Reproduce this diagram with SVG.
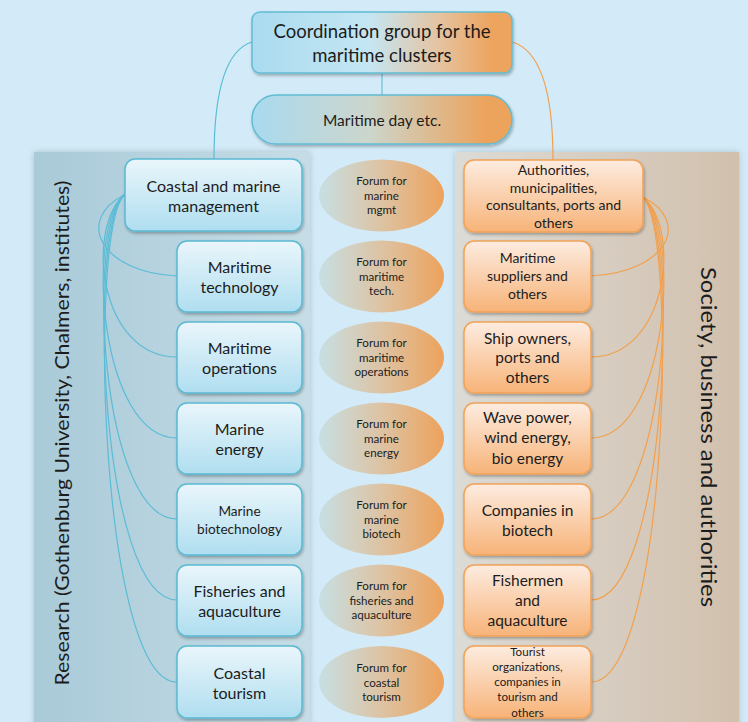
<svg xmlns="http://www.w3.org/2000/svg" width="748" height="722" viewBox="0 0 748 722">
<defs>
<linearGradient id="gLP" x1="0" y1="0" x2="1" y2="0"><stop offset="0" stop-color="#a9cad8"/><stop offset="1" stop-color="#c6dde6"/></linearGradient>
<linearGradient id="gRP" x1="0" y1="0" x2="1" y2="0"><stop offset="0" stop-color="#dcdbd6"/><stop offset="1" stop-color="#d2c0ad"/></linearGradient>
<linearGradient id="gCoord" x1="0" y1="0" x2="1" y2="0"><stop offset="0" stop-color="#aadbef"/><stop offset="0.45" stop-color="#c4e6f3"/><stop offset="0.72" stop-color="#e5c3a0"/><stop offset="0.92" stop-color="#eda45f"/><stop offset="1" stop-color="#eda45f"/></linearGradient>
<linearGradient id="gPill" x1="0" y1="0" x2="1" y2="0"><stop offset="0" stop-color="#a9daef"/><stop offset="0.45" stop-color="#ccd6cc"/><stop offset="0.9" stop-color="#eca35c"/><stop offset="1" stop-color="#eca35c"/></linearGradient>
<linearGradient id="gEll" x1="0" y1="0" x2="1" y2="0"><stop offset="0" stop-color="#c7dfe3"/><stop offset="0.5" stop-color="#ddc3a3"/><stop offset="1" stop-color="#eda25c"/></linearGradient>
<linearGradient id="gLB" x1="0" y1="0" x2="0" y2="1"><stop offset="0" stop-color="#eaf6fb"/><stop offset="1" stop-color="#afdef0"/></linearGradient>
<linearGradient id="gRB" x1="0" y1="0" x2="0" y2="1"><stop offset="0" stop-color="#fdece0"/><stop offset="1" stop-color="#f7b378"/></linearGradient>
<filter id="sh" x="-10%" y="-10%" width="125%" height="130%"><feDropShadow dx="1" dy="2" stdDeviation="1.5" flood-color="#000" flood-opacity="0.28"/></filter>
<filter id="psh" x="-5%" y="-5%" width="110%" height="110%"><feDropShadow dx="0" dy="0" stdDeviation="3" flood-color="#000" flood-opacity="0.18"/></filter>
</defs>
<style>
text{font-family:Lato,"Open Sans","Liberation Sans",sans-serif;fill:#1c1c1c;text-anchor:middle}
.lb{fill:url(#gLB);stroke:#5ab9d3;stroke-width:1.5}
.rb{fill:url(#gRB);stroke:#f1a358;stroke-width:1.5}
.el{fill:url(#gEll)}
.lc{fill:none;stroke:#5bbcd6;stroke-width:1.2}
.rc{fill:none;stroke:#f2a04e;stroke-width:1.2}
.t15{font-size:16px}
.t16{font-size:15.5px}
.t13{font-size:13.6px}
.t10{font-size:11.6px}
.big{font-size:20px;text-anchor:middle}
</style>
<rect width="748" height="722" fill="#d3ebf8"/>
<g id="panels">
<rect x="34" y="152" width="276" height="580" fill="url(#gLP)" filter="url(#psh)"/>
<rect x="455" y="152" width="284" height="580" fill="url(#gRP)" filter="url(#psh)"/>
<text class="big" transform="translate(69,433) rotate(-90)" textLength="505" lengthAdjust="spacingAndGlyphs">Research (Gothenburg University, Chalmers, institutes)</text>
<text class="big" transform="translate(701,437) rotate(90)" textLength="340" lengthAdjust="spacingAndGlyphs" style="font-size:22px">Society, business and authorities</text>
</g>
<g id="connectors">
<path class="lc" d="M252,42 C226,50 214,92 214,159"/>
<path class="rc" d="M512,42 C540,50 553,92 553,160"/>
<path class="lc" d="M382,73 V95" style="stroke:#6cc0d6"/>
<path class="lc" d="M124,195 C75,220 100,272 177,276"/>
<path class="lc" d="M124,195 C85,230 100,357 177,357"/>
<path class="lc" d="M124,195 C85,230 100,438 177,438"/>
<path class="lc" d="M124,195 C86,230 100,519 177,519"/>
<path class="lc" d="M124,195 C87,232 100,600 177,600"/>
<path class="lc" d="M124,195 C88,235 100,682 177,682"/>
<path class="rc" d="M643,197 C692,222 667,272 591,276"/>
<path class="rc" d="M643,197 C682,230 667,357 591,357"/>
<path class="rc" d="M643,197 C682,230 667,438 591,438"/>
<path class="rc" d="M643,197 C681,230 667,519 591,519"/>
<path class="rc" d="M643,197 C680,232 667,600 591,600"/>
<path class="rc" d="M643,197 C679,235 667,682 591,682"/>
</g>
<g id="coord">
<rect x="252" y="12" width="260" height="61" rx="8" fill="url(#gCoord)" stroke="#62bcd4" stroke-width="1.5" filter="url(#sh)"/>
<text x="382" y="38" style="font-size:18.5px">Coordination group for the</text>
<text x="382" y="62" style="font-size:18.5px">maritime clusters</text>
</g>
<g id="maritime-day">
<rect x="252" y="95" width="260" height="49" rx="24" fill="url(#gPill)" stroke="#62bcd4" stroke-width="1.5" filter="url(#sh)"/>
<text x="382" y="126" style="font-size:15.5px">Maritime day etc.</text>
</g>
<g id="l-coastal"><rect class="lb" x="125" y="159" width="177" height="72" rx="10" filter="url(#sh)"/><text class="t15" x="213.5" y="192">Coastal and marine</text><text class="t15" x="213.5" y="212">management</text></g>
<g id="l-tech"><rect class="lb" x="177" y="241" width="125" height="71" rx="10" filter="url(#sh)"/><text class="t15" x="239.5" y="273">Maritime</text><text class="t15" x="239.5" y="293">technology</text></g>
<g id="l-ops"><rect class="lb" x="177" y="322" width="125" height="71" rx="10" filter="url(#sh)"/><text class="t15" x="239.5" y="354">Maritime</text><text class="t15" x="239.5" y="374">operations</text></g>
<g id="l-energy"><rect class="lb" x="177" y="403" width="125" height="71" rx="10" filter="url(#sh)"/><text class="t15" x="239.5" y="435">Marine</text><text class="t15" x="239.5" y="455">energy</text></g>
<g id="l-biotech"><rect class="lb" x="177" y="484" width="125" height="71" rx="10" filter="url(#sh)"/><text class="t13" x="239.5" y="516">Marine</text><text class="t13" x="239.5" y="534">biotechnology</text></g>
<g id="l-fish"><rect class="lb" x="177" y="565" width="125" height="71" rx="10" filter="url(#sh)"/><text class="t15" x="239.5" y="597">Fisheries and</text><text class="t15" x="239.5" y="617">aquaculture</text></g>
<g id="l-tourism"><rect class="lb" x="177" y="646" width="125" height="72" rx="10" filter="url(#sh)"/><text class="t15" x="239.5" y="679">Coastal</text><text class="t15" x="239.5" y="699">tourism</text></g>
<g id="f-mgmt"><ellipse class="el" cx="381.5" cy="195.5" rx="62.5" ry="36"/><text class="t10" x="381.5" y="185">Forum for</text><text class="t10" x="381.5" y="199.5">marine</text><text class="t10" x="381.5" y="214">mgmt</text></g>
<g id="f-tech"><ellipse class="el" cx="381.5" cy="276.5" rx="62.5" ry="36"/><text class="t10" x="381.5" y="266">Forum for</text><text class="t10" x="381.5" y="280.5">maritime</text><text class="t10" x="381.5" y="295">tech.</text></g>
<g id="f-ops"><ellipse class="el" cx="381.5" cy="357.5" rx="62.5" ry="36"/><text class="t10" x="381.5" y="347">Forum for</text><text class="t10" x="381.5" y="361.5">maritime</text><text class="t10" x="381.5" y="376">operations</text></g>
<g id="f-energy"><ellipse class="el" cx="381.5" cy="438.5" rx="62.5" ry="36"/><text class="t10" x="381.5" y="428">Forum for</text><text class="t10" x="381.5" y="442.5">marine</text><text class="t10" x="381.5" y="457">energy</text></g>
<g id="f-biotech"><ellipse class="el" cx="381.5" cy="519.5" rx="62.5" ry="36"/><text class="t10" x="381.5" y="509">Forum for</text><text class="t10" x="381.5" y="523.5">marine</text><text class="t10" x="381.5" y="538">biotech</text></g>
<g id="f-fish"><ellipse class="el" cx="381.5" cy="600.5" rx="62.5" ry="36"/><text class="t10" x="381.5" y="590">Forum for</text><text class="t10" x="381.5" y="604.5">fisheries and</text><text class="t10" x="381.5" y="619">aquaculture</text></g>
<g id="f-tourism"><ellipse class="el" cx="381.5" cy="682" rx="62.5" ry="36"/><text class="t10" x="381.5" y="672">Forum for</text><text class="t10" x="381.5" y="686.5">coastal</text><text class="t10" x="381.5" y="701">tourism</text></g>
<g id="r-auth"><rect class="rb" x="464" y="160" width="179" height="72" rx="10" filter="url(#sh)"/><text x="553.5" y="175" style="font-size:14px">Authorities,</text><text x="553.5" y="192.5" style="font-size:14px">municipalities,</text><text x="553.5" y="210" style="font-size:14px">consultants, ports and</text><text x="553.5" y="227.5" style="font-size:14px">others</text></g>
<g id="r-suppliers"><rect class="rb" x="464" y="241" width="127" height="71" rx="10" filter="url(#sh)"/><text x="527.5" y="263" style="font-size:14px">Maritime</text><text x="527.5" y="281" style="font-size:14px">suppliers and</text><text x="527.5" y="299" style="font-size:14px">others</text></g>
<g id="r-ship"><rect class="rb" x="464" y="322" width="127" height="71" rx="10" filter="url(#sh)"/><text class="t16" x="527.5" y="344">Ship owners,</text><text class="t16" x="527.5" y="363">ports and</text><text class="t16" x="527.5" y="382.5">others</text></g>
<g id="r-wave"><rect class="rb" x="464" y="403" width="127" height="71" rx="10" filter="url(#sh)"/><text class="t16" x="527.5" y="423">Wave power,</text><text class="t16" x="527.5" y="443">wind energy,</text><text class="t16" x="527.5" y="463.5">bio energy</text></g>
<g id="r-biotech"><rect class="rb" x="464" y="484" width="127" height="71" rx="10" filter="url(#sh)"/><text class="t16" x="527.5" y="516">Companies in</text><text class="t16" x="527.5" y="536">biotech</text></g>
<g id="r-fish"><rect class="rb" x="464" y="565" width="127" height="71" rx="10" filter="url(#sh)"/><text class="t16" x="527.5" y="586">Fishermen</text><text class="t16" x="527.5" y="606">and</text><text class="t16" x="527.5" y="625.5">aquaculture</text></g>
<g id="r-tourism"><rect class="rb" x="464" y="646" width="127" height="72" rx="10" filter="url(#sh)"/><text class="t10" x="527.5" y="656">Tourist</text><text class="t10" x="527.5" y="671">organizations,</text><text class="t10" x="527.5" y="686">companies in</text><text class="t10" x="527.5" y="701">tourism and</text><text class="t10" x="527.5" y="716.5">others</text></g>
</svg>
